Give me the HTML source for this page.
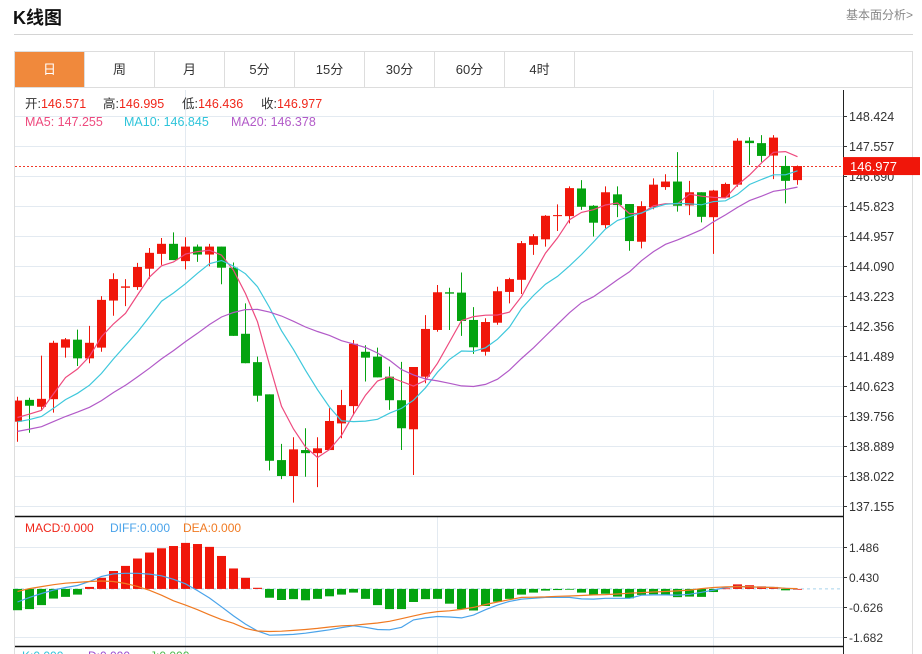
<!DOCTYPE html>
<html><head><meta charset="utf-8">
<style>
*{margin:0;padding:0;box-sizing:border-box}
body{width:922px;height:654px;overflow:hidden;background:#fff;font-family:"Liberation Sans","Noto Sans CJK SC",sans-serif;position:relative}
#title{position:absolute;left:13px;top:4px;font-size:18px;font-weight:bold;color:#111}
#more{position:absolute;right:9px;top:6px;font-size:12px;color:#888}
#hr{position:absolute;left:14px;top:34px;width:899px;height:1px;background:#d4d4d4}
#tabs{position:absolute;left:14px;top:51px;width:899px;height:37px;border:1px solid #ddd;display:flex}
.tab{width:70px;height:35px;line-height:35px;text-align:center;font-size:13px;color:#333;border-right:1px solid #ddd}
.tab.on{background:#f0893c;color:#fff}
svg{position:absolute;left:0;top:0}
svg text{font-family:"Liberation Sans","Noto Sans CJK SC",sans-serif}
</style></head><body>
<div id="title">K线图</div>
<div id="more">基本面分析&gt;</div>
<div id="hr"></div>
<div id="tabs">
<div class="tab on">日</div>
<div class="tab">周</div>
<div class="tab">月</div>
<div class="tab">5分</div>
<div class="tab">15分</div>
<div class="tab">30分</div>
<div class="tab">60分</div>
<div class="tab">4时</div>
</div>
<svg id="chart" width="922" height="654"></svg>
<script>
const opens=[139.59,140.22,140.02,140.24,141.73,141.96,141.42,141.73,143.09,143.46,143.48,144.01,144.44,144.73,144.23,144.65,144.42,144.65,144.04,142.13,141.31,140.38,138.48,138.02,138.77,138.68,138.77,139.54,140.04,141.61,141.47,140.89,140.21,139.37,140.89,142.24,143.33,143.32,142.53,141.61,142.45,143.34,143.69,144.70,144.86,145.53,145.53,146.33,145.83,145.27,146.16,145.88,144.79,145.79,146.37,146.53,145.84,146.22,145.50,146.07,146.44,147.71,147.64,147.28,146.98,146.571];
const highs=[140.31,140.28,141.50,141.93,142.01,142.25,142.36,143.22,143.88,143.71,144.18,144.61,144.90,145.06,144.92,144.71,144.73,144.65,144.19,143.01,141.47,140.38,138.95,139.14,139.40,139.14,139.98,140.51,141.95,141.80,141.73,141.18,141.32,141.17,142.67,143.54,143.46,143.90,142.90,142.58,143.49,143.75,144.81,145.01,145.56,145.87,146.39,146.57,145.85,146.39,146.39,145.88,145.96,146.62,146.74,147.38,146.55,146.22,146.29,146.50,147.78,147.81,147.87,147.87,147.27,146.995];
const lows=[139.01,139.27,139.93,139.85,141.44,141.20,141.28,141.61,142.65,142.93,143.40,143.72,144.12,144.26,143.99,144.21,144.08,143.56,142.07,141.28,140.17,138.18,137.93,137.25,138.00,137.70,138.77,139.11,139.78,140.75,140.87,139.93,138.77,138.05,140.70,142.19,142.24,142.07,141.55,141.50,142.39,143.01,143.28,144.41,144.65,145.10,145.32,145.71,144.94,145.18,145.50,144.53,144.60,145.73,146.29,145.66,145.56,145.35,144.44,146.05,146.38,147.01,147.10,146.60,145.90,146.436];
const closes=[140.20,140.05,140.25,141.87,141.97,141.42,141.87,143.11,143.71,143.50,144.06,144.47,144.73,144.26,144.65,144.42,144.65,144.04,142.07,141.28,140.34,138.46,138.02,138.79,138.68,138.82,139.61,140.07,141.84,141.44,140.87,140.21,139.40,141.17,142.27,143.33,143.29,142.50,141.74,142.47,143.36,143.71,144.75,144.95,145.54,145.56,146.34,145.80,145.34,146.22,145.85,144.81,145.82,146.44,146.53,145.83,146.22,145.51,146.27,146.46,147.71,147.64,147.27,147.80,146.55,146.977];
const priorCloses=[138.70,138.85,138.95,139.00,138.90,139.10,139.20,139.05,139.30,139.25,139.40,139.35,139.50,139.45,139.60,139.55,139.70,139.50,139.60];
const macdHist=[-0.75,-0.71,-0.57,-0.34,-0.28,-0.20,0.07,0.39,0.63,0.81,1.07,1.28,1.43,1.51,1.62,1.58,1.48,1.16,0.72,0.39,0.04,-0.31,-0.39,-0.36,-0.40,-0.35,-0.26,-0.20,-0.13,-0.35,-0.57,-0.71,-0.71,-0.46,-0.36,-0.35,-0.52,-0.71,-0.76,-0.60,-0.45,-0.35,-0.20,-0.13,-0.06,-0.04,-0.02,-0.13,-0.20,-0.17,-0.27,-0.33,-0.21,-0.19,-0.21,-0.29,-0.27,-0.28,-0.11,0.02,0.16,0.13,0.09,0.07,-0.05,0.00];
const diffVals=[-0.46,-0.30,-0.16,-0.04,0.05,0.12,0.26,0.44,0.53,0.55,0.55,0.52,0.46,0.34,0.18,-0.06,-0.32,-0.63,-0.95,-1.24,-1.48,-1.63,-1.62,-1.60,-1.56,-1.50,-1.44,-1.36,-1.30,-1.35,-1.43,-1.44,-1.35,-1.09,-1.02,-0.97,-0.99,-1.02,-0.92,-0.73,-0.57,-0.44,-0.36,-0.33,-0.30,-0.30,-0.30,-0.35,-0.36,-0.33,-0.33,-0.33,-0.22,-0.21,-0.21,-0.22,-0.19,-0.12,-0.04,0.05,0.09,0.07,0.06,0.05,0.02,0.00];
const deaVals=[-0.09,0.01,0.08,0.15,0.20,0.23,0.26,0.28,0.26,0.19,0.09,-0.05,-0.22,-0.42,-0.57,-0.73,-0.91,-1.08,-1.21,-1.39,-1.48,-1.50,-1.49,-1.46,-1.43,-1.39,-1.34,-1.30,-1.28,-1.24,-1.20,-1.14,-1.05,-0.95,-0.86,-0.80,-0.77,-0.72,-0.65,-0.55,-0.46,-0.38,-0.30,-0.29,-0.28,-0.26,-0.25,-0.23,-0.21,-0.20,-0.18,-0.15,-0.13,-0.11,-0.09,-0.07,-0.04,0.01,0.05,0.07,0.08,0.07,0.06,0.05,0.02,0.01];
const priceTicks=['148.424','147.557','146.690','145.823','144.957','144.090','143.223','142.356','141.489','140.623','139.756','138.889','138.022','137.155'];
const macdTicks=['1.486','0.430','-0.626','-1.682'];
const lastPrice=146.977;

const NS='http://www.w3.org/2000/svg';
const svg=document.getElementById('chart');
function mk(tag,attrs,parent){const e=document.createElementNS(NS,tag);for(const k in attrs)e.setAttribute(k,attrs[k]);(parent||svg).appendChild(e);return e;}
const PL=15,PR=843,PT=90,PB=516;
const pMax=parseFloat(priceTicks[0]),pStep=parseFloat(priceTicks[0])-parseFloat(priceTicks[1]);
function xOf(i){return 17.5+12*i;}
function yOf(p){return 116+(pMax-p)/pStep*30;}
const mTop=parseFloat(macdTicks[0]),mStep=parseFloat(macdTicks[0])-parseFloat(macdTicks[1]);
function yM(v){return 546.7+(mTop-v)/mStep*30;}
const RED='#f0160a',GREEN='#04a30f';

let e;
e=mk('rect',{x:14.5,y:87.5,width:898,height:570,fill:'none',stroke:'#ddd'});


const gg=mk('g',{stroke:'#e3eaf1','stroke-width':1});


priceTicks.forEach(t=>{const y=Math.round(yOf(parseFloat(t)))+0.5;mk('line',{x1:PL,x2:PR,y1:y,y2:y},gg);});
[185.5,713.5].forEach(x=>{mk('line',{x1:x,x2:x,y1:PT,y2:PB},gg);});
macdTicks.forEach(t=>{const y=Math.round(yM(parseFloat(t)))+0.5;mk('line',{x1:PL,x2:PR,y1:y,y2:y},gg);});
[185.5,437.5,713.5].forEach(x=>{mk('line',{x1:x,x2:x,y1:517,y2:654},gg);});

const defs=mk('defs',{});
const cp=mk('clipPath',{id:'clipMain'},defs);mk('rect',{x:PL,y:PT,width:PR-PL,height:PB-PT},cp);
const main=mk('g',{'clip-path':'url(#clipMain)'});

e=mk('line',{x1:PL,x2:PR,y1:Math.round(yOf(lastPrice))+0.5,y2:Math.round(yOf(lastPrice))+0.5,stroke:'#f03a2a','stroke-dasharray':'2,2'},main);



for(let i=0;i<closes.length;i++){
  const up=closes[i]>=opens[i];const c=up?RED:GREEN;const x=xOf(i);
  const g=mk('g',{},main);
  
  
  mk('line',{x1:x,x2:x,y1:yOf(highs[i]),y2:yOf(lows[i]),stroke:c,'stroke-width':1},g);
  const yt=yOf(Math.max(opens[i],closes[i])),yb=yOf(Math.min(opens[i],closes[i]));
  mk('rect',{x:x-4.5,y:yt,width:9,height:Math.max(1,yb-yt),fill:c},g);
}
const all=priorCloses.concat(closes);
function ma(n){const out=[];for(let i=0;i<closes.length;i++){const j=i+priorCloses.length;let s=0,c=0;for(let k=Math.max(0,j-n+1);k<=j;k++){s+=all[k];c++;}out.push(s/c);}return out;}
[[5,'#ee4a7e','ma5-line'],[10,'#3ec8dc','ma10-line'],[20,'#b25ac8','ma20-line']].forEach(([n,col,name])=>{
  const v=ma(n);const d=v.map((p,i)=>(i?'L':'M')+xOf(i).toFixed(1)+','+yOf(p).toFixed(1)).join('');
  const l=mk('path',{d:d,fill:'none',stroke:col,'stroke-width':1.2},main);
  
  
});

e=mk('line',{x1:843.5,x2:843.5,y1:PT,y2:654,stroke:'#222'});


e=mk('line',{x1:PL,x2:PR,y1:516.5,y2:516.5,stroke:'#111','stroke-width':1.5});


e=mk('line',{x1:PL,x2:PR,y1:646.5,y2:646.5,stroke:'#111','stroke-width':1.5});


priceTicks.forEach(t=>{const y=Math.round(yOf(parseFloat(t)))+0.5;
  mk('line',{x1:843,x2:847,y1:y,y2:y,stroke:'#333'});
  const tx=mk('text',{x:849,y:y+4.5,'font-size':12.5,fill:'#333'});tx.textContent=t;
  
  });
macdTicks.forEach(t=>{const y=Math.round(yM(parseFloat(t)))+0.5;
  mk('line',{x1:843,x2:847,y1:y,y2:y,stroke:'#333'});
  const tx=mk('text',{x:849,y:y+4.5,'font-size':12,fill:'#333'});tx.textContent=t;
  
  });
const ly=yOf(lastPrice);
e=mk('rect',{x:843,y:ly-9,width:77,height:18,fill:RED});


e=mk('text',{x:850,y:ly+5,'font-size':13,fill:'#fff'});e.textContent=lastPrice.toFixed(3);



// info lines: each group [x, label, color]
function info(y,parts,name,fs){const t=mk('text',{y:y,'font-size':fs||12.5});
  
  
  parts.forEach(([x,s,c])=>{const a={fill:c};if(x!==null)a.x=x;const sp=mk('tspan',a,t);sp.textContent=s;});}
info(108,[[25,'开:','#333'],[null,'146.571','#f0261a'],[103,'高:','#333'],[null,'146.995','#f0261a'],[182,'低:','#333'],[null,'146.436','#f0261a'],[261,'收:','#333'],[null,'146.977','#f0261a']],'ohlc-info');
info(126,[[25,'MA5: 147.255','#ee4a7e'],[124,'MA10: 146.845','#2ec4da'],[231,'MA20: 146.378','#b25ac8']],'ma-info');
info(532,[[25,'MACD:0.000','#f0261a'],[110,'DIFF:0.000','#4aa3ea'],[183,'DEA:0.000','#f07a22']],'macd-legend',12);
info(660,[[22,'K:0.000','#2ec4da'],[88,'D:0.000','#9a4ad0'],[150,'J:0.000','#4ab84a']],'kdj-legend',12);

e=mk('line',{x1:PL,x2:PR,y1:yM(0),y2:yM(0),stroke:'#a8d4ec','stroke-dasharray':'3,3'});


macdHist.forEach((v,i)=>{const y0=yM(0),y1=yM(v);
  const r=mk('rect',{x:xOf(i)-4.5,y:Math.min(y0,y1),width:9,height:Math.max(0.8,Math.abs(y1-y0)),fill:v>=0?RED:GREEN});
  
  });
[[diffVals,'#4aa3ea','diff-line'],[deaVals,'#f07a22','dea-line']].forEach(([arr,col,name])=>{
  const d=arr.map((v,i)=>(i?'L':'M')+xOf(i).toFixed(1)+','+yM(v).toFixed(1)).join('');
  const l=mk('path',{d:d,fill:'none',stroke:col,'stroke-width':1.2});
  
  });
</script>
</body></html>
